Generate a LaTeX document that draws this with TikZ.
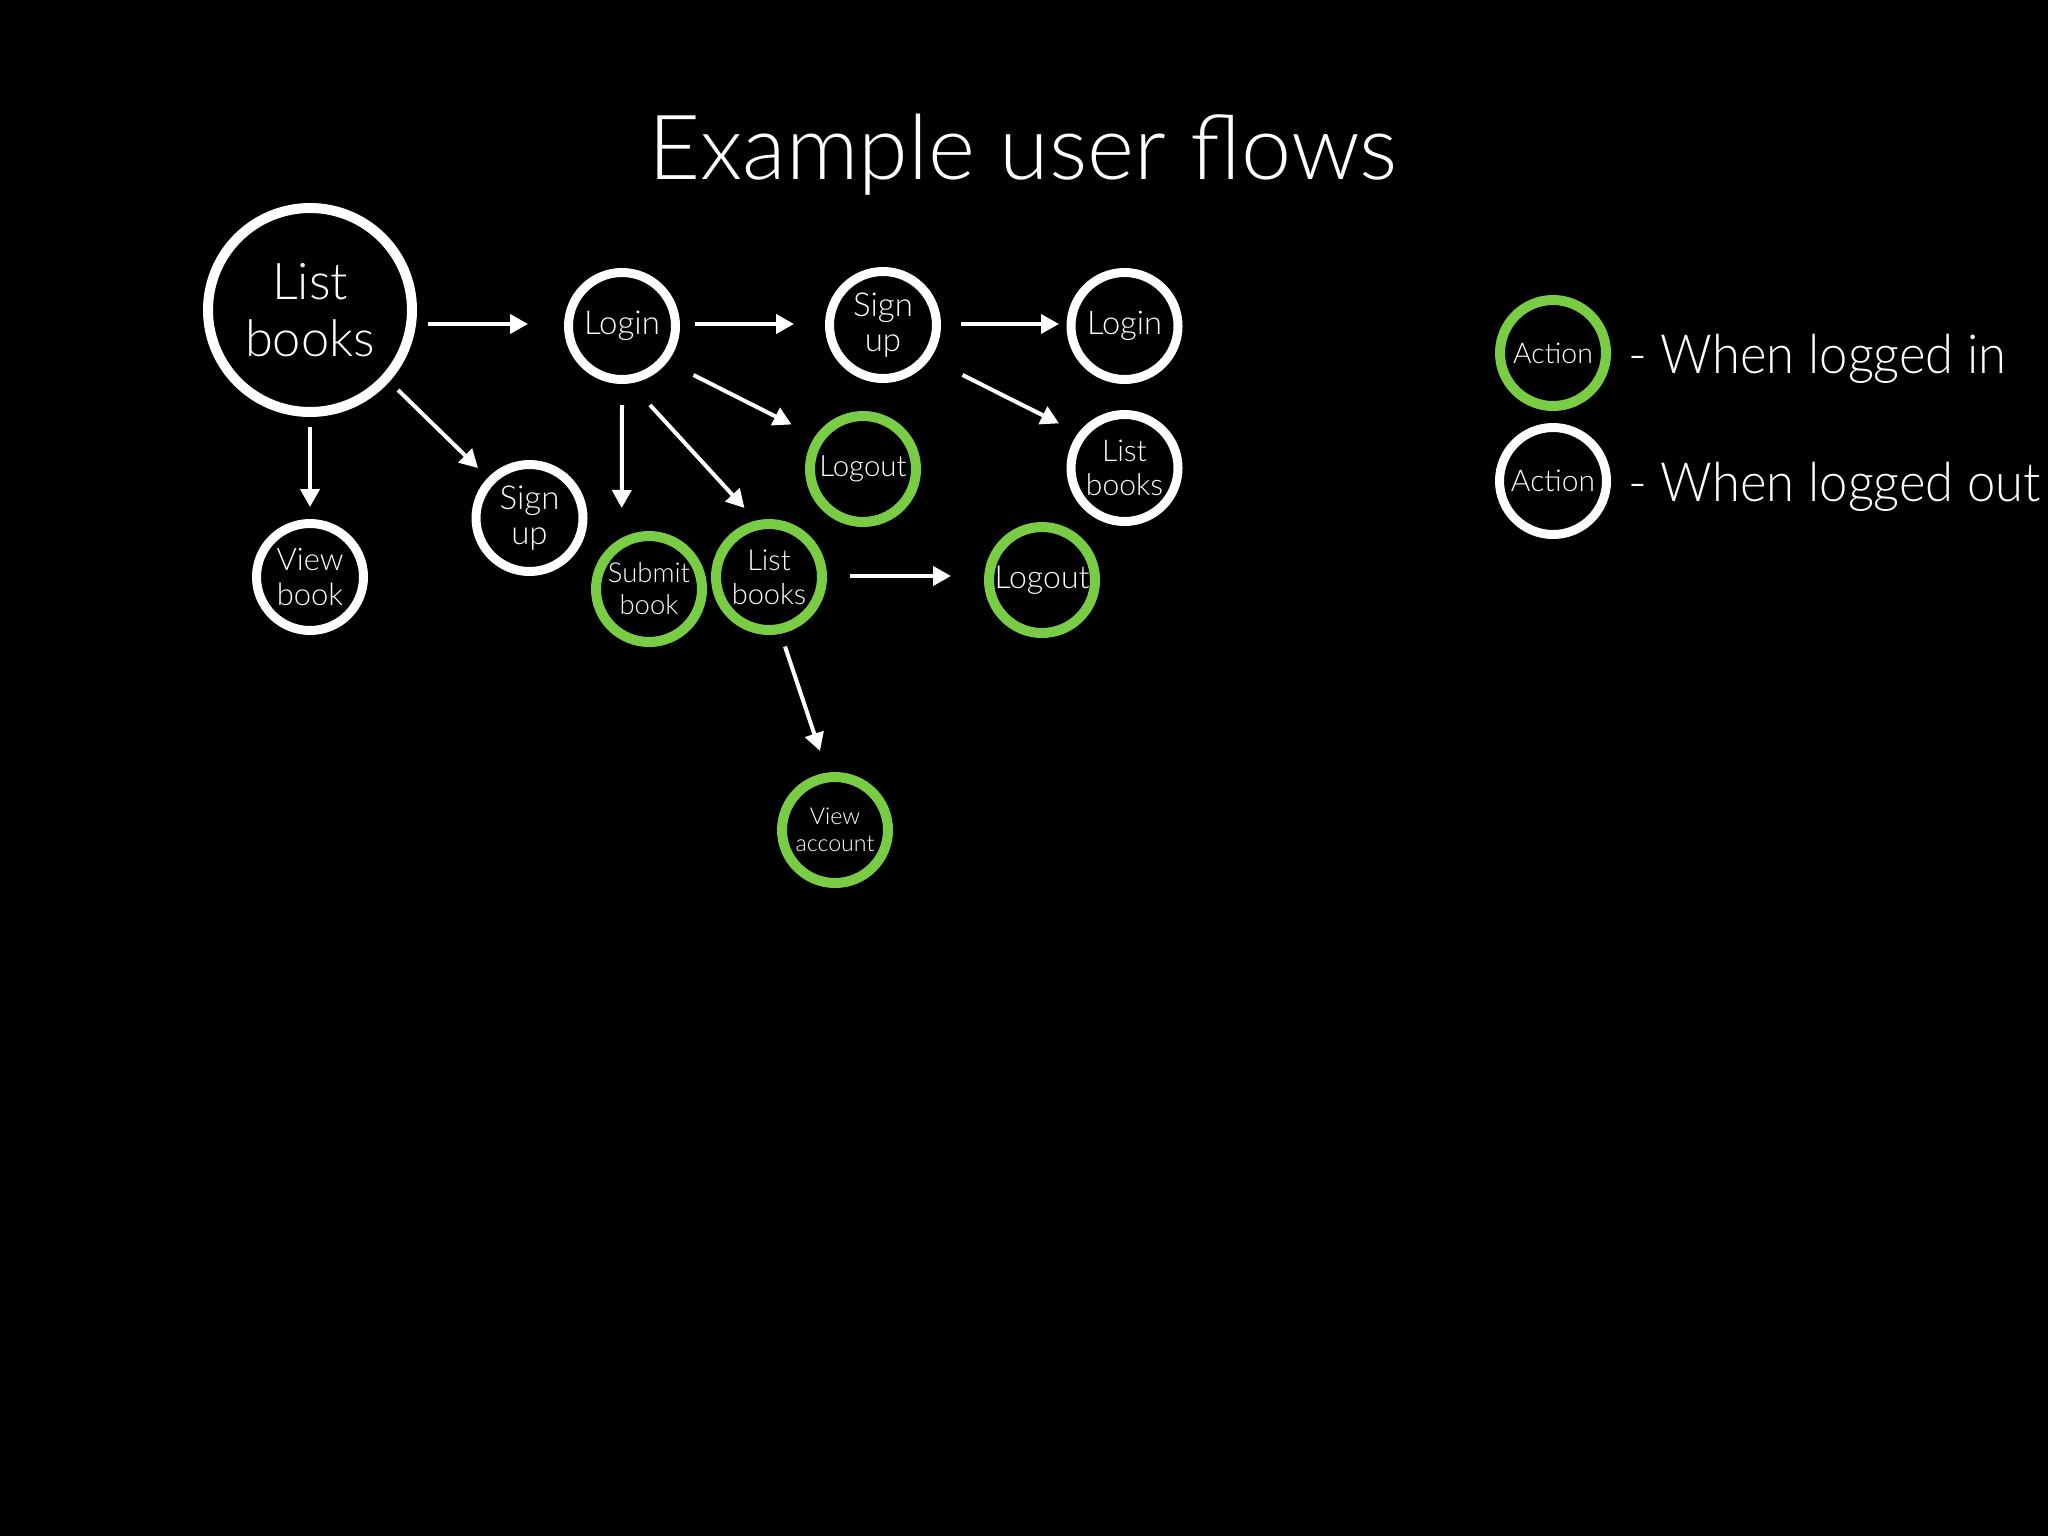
\documentclass[tikz,border=0pt]{standalone}
\usepackage{fontspec}
\setmainfont{Lato Light}
\newfontfamily\narrowlight{Lato Light}[FakeStretch=0.94]
\usetikzlibrary{arrows.meta}
\definecolor{actgreen}{RGB}{121,205,69}
\begin{document}
\begin{tikzpicture}[x=0.5pt,y=-0.5pt,
  base/.style={circle, draw, inner sep=0pt, align=center, text=white, fill=black},
  outnode/.style={base, draw=white, line width=4.5pt, minimum size=53.5pt, font=\fontsize{16}{17.5}\selectfont},
  outbig/.style={base, draw=white, line width=5pt, minimum size=102pt, font=\fontsize{25.3}{28.5}\selectfont},
  innode/.style={base, draw=actgreen, line width=5pt, minimum size=53pt, font=\fontsize{15}{17}\selectfont},
  arr/.style={draw=white, line width=2pt, -{Triangle[length=9pt,width=9.5pt]}},
  lbl/.style={text=white, inner sep=0pt}]
\fill[black] (0,0) rectangle (2048,1536);
\useasboundingbox (0,0) rectangle (2048,1536);

\node[lbl, anchor=base, font=\fontsize{45}{50}\selectfont] (title) at (1023,179) {Example user flows};

% logged-out nodes
\node[outbig] (lb) at (310,310) {List\\books};
\node[outnode, font=\fontsize{16.5}{18}\selectfont] (login1) at (622,326) {Login};
\node[outnode, font=\fontsize{15.5}{17.5}\selectfont] (viewbook) at (310,577) {View\\book};
\node[outnode, font=\fontsize{16.5}{17.5}\selectfont] (signup1) at (529.5,518) {Sign\\up};
\node[outnode, font=\fontsize{16.5}{17.5}\selectfont] (signup2) at (883,325) {Sign\\up};
\node[outnode, font=\fontsize{16.3}{18}\selectfont] (login2) at (1124.5,326) {Login};
\node[outnode, font=\fontsize{15}{17}\selectfont] (lbR) at (1124.5,468) {List\\books};

% logged-in nodes
\node[innode, font=\fontsize{14.7}{17}\selectfont] (logout1) at (863,469) {Logout};
\node[innode, font=\fontsize{13.7}{16}\selectfont] (submit) at (649,589) {Submit\\book};
\node[innode, font=\fontsize{14.5}{17}\selectfont] (lbG) at (769,577) {List\\books};
\node[innode, font=\fontsize{16}{17}\selectfont] (logout2) at (1042,580) {Logout};
\node[innode, font=\fontsize{11.6}{13.5}\selectfont] (viewacct) at (835,830) {View\\account};

% connectors
\draw[arr] ([shift={(118,14)}]lb.center) -- ([shift={(-94,-2)}]login1.center);
\draw[arr] ([shift={(0,117)}]lb.center) -- ([shift={(0,-70)}]viewbook.center);
\draw[arr] ([shift={(88,80)}]lb.center) -- ([shift={(-51.5,-50)}]signup1.center);
\draw[arr] ([shift={(73,-2)}]login1.center) -- ([shift={(-89,-1)}]signup2.center);
\draw[arr] ([shift={(71.5,49)}]login1.center) -- ([shift={(-71.5,-44.5)}]logout1.center);
\draw[arr] ([shift={(0,79)}]login1.center) -- ([shift={(-27.3,-81)}]submit.center);
\draw[arr] ([shift={(28,79)}]login1.center) -- ([shift={(-24.5,-69)}]lbG.center);
\draw[arr] ([shift={(78,-1)}]signup2.center) -- ([shift={(-65.5,-2)}]login2.center);
\draw[arr] ([shift={(79.6,50)}]signup2.center) -- ([shift={(-65.5,-44.6)}]lbR.center);
\draw[arr] ([shift={(81,-1)}]lbG.center) -- ([shift={(-91,-4)}]logout2.center);
\draw[arr] ([shift={(16,69.5)}]lbG.center) -- ([shift={(-15,-79)}]viewacct.center);

% legend
\node[innode, font=\fontsize{14.2}{16}\selectfont] (legin) at (1553,353) {Action};
\node[outnode, font=\fontsize{15}{16}\selectfont] (legout) at (1553,481) {Action};
\node[lbl, anchor=base west, font=\narrowlight\fontsize{27}{32}\selectfont] (legintext) at (1628,373.5) {- When logged in};
\node[lbl, anchor=base west, font=\narrowlight\fontsize{27}{32}\selectfont] (legouttext) at (1628,501.5) {- When logged out};
\end{tikzpicture}
\end{document}
